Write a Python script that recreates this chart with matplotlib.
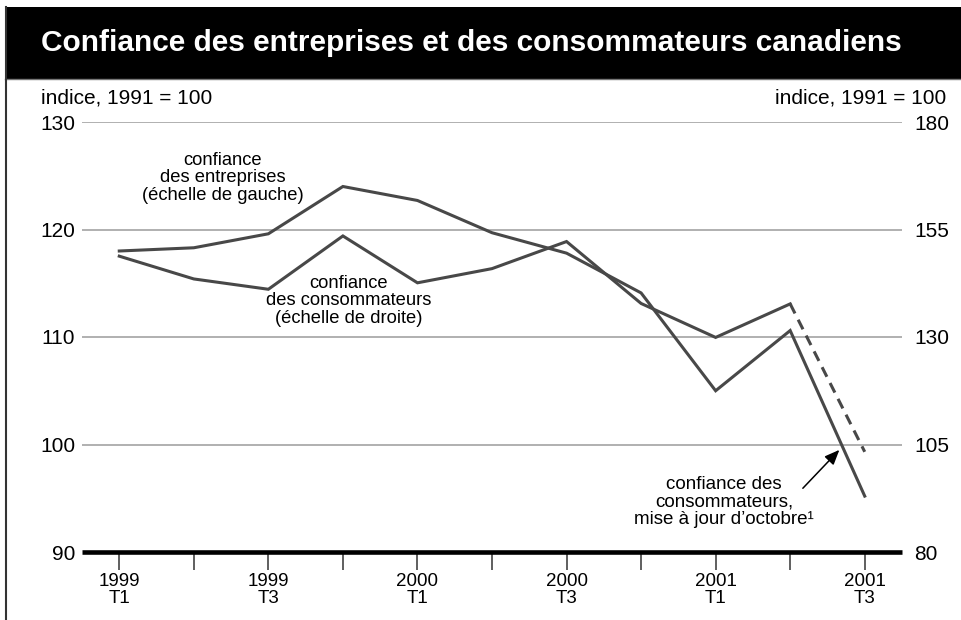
import matplotlib
matplotlib.use("Agg")
import matplotlib.pyplot as plt
from matplotlib.lines import Line2D
from matplotlib.patches import Rectangle

# ---- data ----
trimestres = ["1999\nT1", "", "1999\nT3", "", "2000\nT1", "", "2000\nT3", "", "2001\nT1", "", "2001\nT3"]
entreprises = [118.0, 118.3, 119.6, 124.0, 122.7, 119.7, 117.8, 114.1, 105.0, 110.6, 95.2]   # left scale
consommateurs = [148.8, 143.5, 141.1, 153.5, 142.6, 145.9, 152.2, 137.8, 129.9, 137.7]      # right scale
consommateurs_maj = [137.7, 103.3]   # dashed segment, quarters 9-10
gauche_ticks = [90, 100, 110, 120, 130]
droite_ticks = [80, 105, 130, 155, 180]

FONT = "Liberation Sans"
W, H = 961, 620
fig = plt.figure(figsize=(W / 100, H / 100), dpi=100)
fig.patch.set_facecolor("white")

def fx(px):
    return px / W

def fy(py):
    return 1 - py / H

# title bar
fig.add_artist(Rectangle((fx(5), fy(78.5)), fx(961) - fx(5), fy(6.5) - fy(78.5),
                         transform=fig.transFigure, facecolor="black", edgecolor="none"))
fig.add_artist(Line2D([fx(5), fx(961)], [fy(79.3), fy(79.3)], transform=fig.transFigure,
                      color="#777777", lw=1.0))
fig.add_artist(Line2D([fx(6), fx(6)], [fy(6.5), fy(620)], transform=fig.transFigure,
                      color="#333333", lw=1.5))
title = fig.text(fx(471), fy(43), "Confiance des entreprises et des consommateurs canadiens",
                 color="white", fontsize=20, fontweight="bold", family=FONT,
                 ha="center", va="center")
fig.canvas.draw()
bb = title.get_window_extent()
title.set_fontsize(20 * 863 / bb.width)

# axes
x0, x1, ytop, ybot = 82, 902, 122, 552
ax = fig.add_axes([fx(x0), fy(ybot), fx(x1) - fx(x0), fy(ytop) - fy(ybot)])
ax2 = ax.twinx()
xs = list(range(len(trimestres)))
ax.set_xlim(-0.5, 10.5)
ax.set_ylim(90, 130)
ax2.set_ylim(80, 180)

for v in gauche_ticks[1:]:
    ax.axhline(v, color="#aaaaaa", lw=1.3, zorder=1)

for a in (ax, ax2):
    for s in ("top", "left", "right", "bottom"):
        a.spines[s].set_visible(False)
    a.patch.set_alpha(0)
ax.spines["bottom"].set_visible(True)
ax.spines["bottom"].set_linewidth(3.3)
ax.spines["bottom"].set_color("black")
ax.spines["bottom"].set_capstyle("butt")

ax.set_xticks(xs)
ax.set_xticklabels(trimestres, fontsize=13.5, family=FONT, linespacing=1.05)
ax.tick_params(axis="x", direction="out", length=13, width=1.2, color="#444444", pad=2)
ax.set_yticks(gauche_ticks)
ax.set_yticklabels([str(v) for v in gauche_ticks], fontsize=15, family=FONT)
ax.tick_params(axis="y", length=0, pad=5)
ax2.set_yticks(droite_ticks)
ax2.set_yticklabels([str(v) for v in droite_ticks], fontsize=15, family=FONT)
ax2.tick_params(axis="y", length=0, pad=9)

LC = "#484848"
ax.plot(xs, entreprises, color=LC, lw=2.2, solid_joinstyle="miter", zorder=3)
ax2.plot(xs[:len(consommateurs)], consommateurs, color=LC, lw=2.2, solid_joinstyle="miter", zorder=3)
ax2.plot(xs[9:11], consommateurs_maj, color=LC, lw=2.2, linestyle=(0, (3.5, 2.3)), zorder=3)

# labels
ax.text(1.39, 124.8, "confiance\ndes entreprises\n(échelle de gauche)", ha="center", va="center",
        fontsize=13.2, family=FONT, linespacing=1.05)
ax.text(3.08, 113.35, "confiance\ndes consommateurs\n(échelle de droite)", ha="center", va="center",
        fontsize=13.2, family=FONT, linespacing=1.05)
ax.text(8.11, 94.65, "confiance des\nconsommateurs,\nmise à jour d’octobre¹", ha="center",
        va="center", fontsize=13.5, family=FONT, linespacing=1.05)
ax.annotate("", xy=(9.66, 99.5), xytext=(9.17, 95.93),
            arrowprops=dict(arrowstyle="-|>,head_length=0.6,head_width=0.25", color="black",
                            lw=1.1, mutation_scale=15, shrinkA=0, shrinkB=0))

fig.text(fx(41), fy(97.5), "indice, 1991 = 100", fontsize=15, family=FONT, ha="left", va="center")
fig.text(fx(946), fy(97.5), "indice, 1991 = 100", fontsize=15, family=FONT, ha="right", va="center")

fig.savefig("out.png", dpi=100)
